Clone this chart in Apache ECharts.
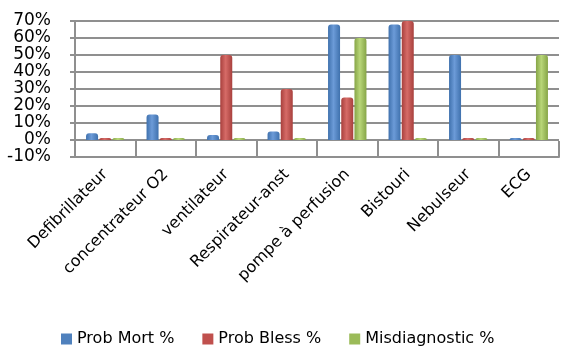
<!DOCTYPE html>
<html>
<head>
<meta charset="utf-8">
<script src="https://cdn.jsdelivr.net/npm/echarts@6/dist/echarts.min.js"></script>
<style>
  html, body { margin: 0; padding: 0; background: #fff; }
  #chart { width: 568px; height: 351px; }
</style>
</head>
<body>
<div id="chart"></div>
<script>
// Equipment categories along the x axis
var categories = ['Defibrillateur', 'concentrateur O2', 'ventilateur', 'Respirateur-anst',
                  'pompe à perfusion', 'Bistouri', 'Nebulseur', 'ECG'];

// Percentages per equipment
var probMort = [4, 15, 3, 5, 68, 68, 50, 0];
var probBless = [0, 0, 50, 30, 25, 70, 0, 0];
var misdiagnostic = [0, 0, 0, 0, 60, 0, 0, 50];

var seriesNames = ['Prob Mort %', 'Prob Bless %', 'Misdiagnostic %'];

// Value axis range
var yMin = -10, yMax = 70, yStep = 10;

var FONT = 'DejaVu Sans';
var AXIS_GREY = '#8f8f8f';

// cylinder-like shading: darker edges, lighter centre
function cyl(edge, mid) {
  return new echarts.graphic.LinearGradient(0, 0, 1, 0, [
    { offset: 0, color: edge },
    { offset: 0.45, color: mid },
    { offset: 1, color: edge }
  ]);
}

var fills = [
  cyl('#3f71ad', '#6c9bd8'),
  cyl('#a8403d', '#d66b67'),
  cyl('#86a547', '#b8d678')
];
var legendColors = ['#4f81bd', '#c0504d', '#9bbb59'];

function barSeries(name, data, i) {
  return {
    name: name,
    type: 'bar',
    data: data,
    barWidth: 12,
    barGap: '10%',
    barMinHeight: 2,
    itemStyle: { color: fills[i], borderRadius: [3, 3, 0, 0] },
    emphasis: { disabled: true }
  };
}

var chart = echarts.init(document.getElementById('chart'), null, { renderer: 'canvas' });
chart.setOption({
  animation: false,
  color: legendColors,
  grid: { left: 75, right: 9, top: 21, bottom: 194 },
  legend: {
    left: 61,
    top: 331,
    padding: 0,
    itemWidth: 11,
    itemHeight: 11,
    itemGap: 28,
    icon: 'rect',
    textStyle: { fontFamily: FONT, fontSize: 16, color: '#000' },
    data: seriesNames.map(function (n, i) {
      return { name: n, itemStyle: { color: legendColors[i] } };
    })
  },
  xAxis: {
    type: 'category',
    data: categories,
    boundaryGap: true,
    axisLine: { onZero: false, lineStyle: { color: AXIS_GREY, width: 2 } },
    axisTick: { show: true, inside: true, length: 16,
                lineStyle: { color: AXIS_GREY, width: 2 } },
    axisLabel: {
      rotate: 45,
      margin: 15,
      interval: 0,
      fontFamily: FONT,
      fontSize: 16,
      color: '#000'
    }
  },
  yAxis: {
    type: 'value',
    min: yMin,
    max: yMax,
    interval: yStep,
    axisLine: { show: true, lineStyle: { color: AXIS_GREY, width: 2 } },
    axisTick: { show: true, length: 5, lineStyle: { color: AXIS_GREY, width: 2 } },
    splitLine: { show: true, lineStyle: { color: AXIS_GREY, width: 2 } },
    axisLabel: {
      formatter: '{value}%',
      showMinLabel: true,
      showMaxLabel: true,
      hideOverlap: false,
      fontFamily: FONT,
      fontSize: 17,
      color: '#000',
      margin: 24
    }
  },
  series: [
    barSeries(seriesNames[0], probMort, 0),
    barSeries(seriesNames[1], probBless, 1),
    barSeries(seriesNames[2], misdiagnostic, 2)
  ]
});
</script>
</body>
</html>
